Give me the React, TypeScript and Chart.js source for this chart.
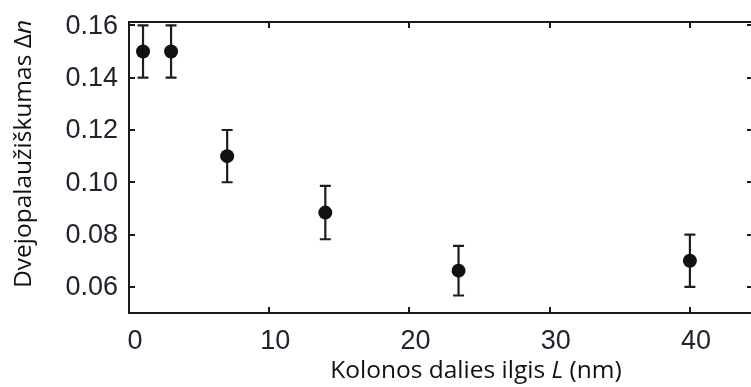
import React, { useEffect, useRef } from "react";
import { Chart, registerables } from "chart.js";

Chart.register(...registerables);

// Column length L (nm) and measured birefringence Δn with its uncertainty
const lengthNm = [1, 3, 7, 14, 23.5, 40];
const birefringence = [0.15, 0.15, 0.11, 0.0884, 0.0662, 0.07];
const birefringenceErr = [0.01, 0.01, 0.01, 0.0102, 0.0095, 0.01];

const xTickValues = [0, 10, 20, 30, 40];
const xTickLabels = ["0", "10", "20", "30", "40"];
const yTickValues = [0.06, 0.08, 0.1, 0.12, 0.14, 0.16];
const yTickLabels = ["0.06", "0.08", "0.10", "0.12", "0.14", "0.16"];

const xTitle = [
  { text: "Kolonos dalies ilgis ", italic: false },
  { text: "L", italic: true },
  { text: " (nm)", italic: false },
];
const yTitle = [
  { text: "Dvejopalaužiškumas ", italic: false },
  { text: "Δ", italic: false },
  { text: "n", italic: true },
];

const TITLE_FONT = '"Open Sans", sans-serif';
const TICK_FONT = '"Liberation Sans", Arial, sans-serif';

type Seg = { text: string; italic: boolean };

function drawRich(ctx: CanvasRenderingContext2D, segs: Seg[], cx: number, cy: number, size: number) {
  const fontOf = (s: Seg) => `${s.italic ? "italic " : ""}${size}px ${TITLE_FONT}`;
  let total = 0;
  for (const s of segs) {
    ctx.font = fontOf(s);
    total += ctx.measureText(s.text).width;
  }
  let x = cx - total / 2;
  ctx.textAlign = "left";
  ctx.textBaseline = "middle";
  for (const s of segs) {
    ctx.font = fontOf(s);
    ctx.fillText(s.text, x, cy);
    x += ctx.measureText(s.text).width;
  }
}

// Boxed axes with inward ticks, error bars, tick labels and axis titles
const framePlugin = {
  id: "frame",
  beforeDatasetsDraw(chart: any) {
    const { ctx, chartArea: a, scales } = chart;
    const xs = scales.x;
    const ys = scales.y;
    const tick = 6;

    ctx.save();
    // error bars
    ctx.strokeStyle = "#1e1e1e";
    ctx.lineWidth = 2.2;
    const cap = 5.5;
    lengthNm.forEach((lx, i) => {
      const px = xs.getPixelForValue(lx);
      const top = ys.getPixelForValue(birefringence[i] + birefringenceErr[i]);
      const bot = ys.getPixelForValue(birefringence[i] - birefringenceErr[i]);
      ctx.beginPath();
      ctx.moveTo(px, top);
      ctx.lineTo(px, bot);
      ctx.moveTo(px - cap, top);
      ctx.lineTo(px + cap, top);
      ctx.moveTo(px - cap, bot);
      ctx.lineTo(px + cap, bot);
      ctx.stroke();
    });

    // frame
    ctx.strokeStyle = "#1a1a1a";
    ctx.lineWidth = 2;
    ctx.strokeRect(a.left, a.top, a.right - a.left, a.bottom - a.top);

    // inward ticks
    ctx.beginPath();
    xTickValues.forEach((v) => {
      const px = Math.round(xs.getPixelForValue(v));
      ctx.moveTo(px, a.bottom);
      ctx.lineTo(px, a.bottom - tick);
      ctx.moveTo(px, a.top);
      ctx.lineTo(px, a.top + tick);
    });
    yTickValues.forEach((v) => {
      const py = Math.round(ys.getPixelForValue(v));
      ctx.moveTo(a.left, py);
      ctx.lineTo(a.left + tick, py);
      ctx.moveTo(a.right, py);
      ctx.lineTo(a.right - tick, py);
    });
    ctx.stroke();

    // tick labels
    ctx.fillStyle = "#232330";
    ctx.font = `27px ${TICK_FONT}`;
    ctx.textBaseline = "middle";
    ctx.textAlign = "center";
    xTickValues.forEach((v, i) => {
      ctx.fillText(xTickLabels[i], xs.getPixelForValue(v) + 6, a.bottom + 29);
    });
    ctx.textAlign = "right";
    yTickValues.forEach((v, i) => {
      ctx.fillText(yTickLabels[i], a.left - 11, ys.getPixelForValue(v) + 1);
    });

    // axis titles
    ctx.fillStyle = "#111";
    drawRich(ctx, xTitle, 476, 371, 24.5);
    ctx.translate(24, 154);
    ctx.rotate(-Math.PI / 2);
    drawRich(ctx, yTitle, 0, 0, 24.5);
    ctx.restore();
  },
};

export default function App() {
  const ref = useRef<HTMLCanvasElement | null>(null);

  useEffect(() => {
    if (!ref.current) return;
    const chart = new Chart(ref.current, {
      type: "scatter",
      data: {
        datasets: [
          {
            data: lengthNm.map((x, i) => ({ x, y: birefringence[i] })),
            pointRadius: 7,
            pointBackgroundColor: "#111",
            pointBorderWidth: 0,
          },
        ],
      },
      options: {
        animation: false,
        responsive: false,
        maintainAspectRatio: false,
        devicePixelRatio: 1,
        layout: { padding: { left: 129, top: 22, right: 7, bottom: 74 } },
        plugins: { legend: { display: false }, tooltip: { enabled: false } },
        scales: {
          x: { type: "linear", min: 0, max: 44.5, display: false },
          y: { type: "linear", min: 0.05, max: 0.1613, display: false },
        },
      },
      plugins: [framePlugin],
    });
    return () => chart.destroy();
  }, []);

  return (
    <div
      style={{
        position: "fixed",
        left: 0,
        top: 0,
        width: 751,
        height: 387,
        overflow: "hidden",
        background: "#fff",
      }}
    >
      <canvas ref={ref} width={760} height={387} style={{ display: "block" }} />
    </div>
  );
}
